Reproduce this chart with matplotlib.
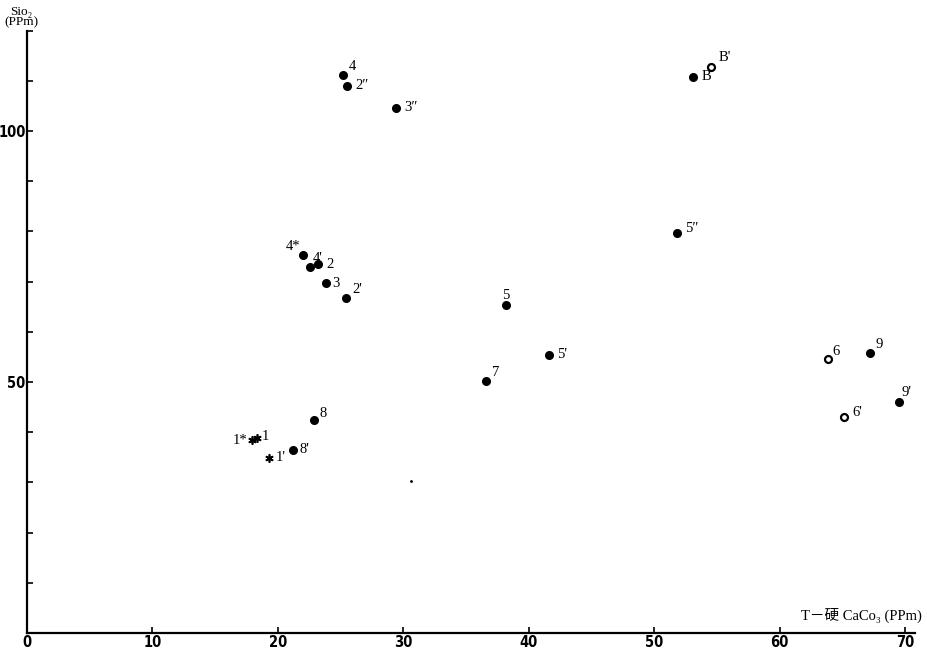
import matplotlib
matplotlib.use("Agg")
import matplotlib.pyplot as plt

# sample points: T-hardness CaCO3 (ppm) vs SiO2 (ppm)
names = ["4", "2″", "3″", "B", "B'", "4*", "4'", "2", "3", "2'",
         "5", "5″", "5'", "7", "6", "9", "9'", "6'", "8", "8'",
         "1", "1*", "1'"]
caco3 = [25.2, 25.5, 29.4, 53.1, 54.5, 22.0, 22.6, 23.2, 23.8, 25.4,
         38.2, 51.8, 41.6, 36.6, 63.9, 67.2, 69.5, 65.1, 22.9, 21.2,
         18.3, 17.9, 19.3]
sio2 = [111.2, 109.0, 104.6, 110.8, 112.7, 75.3, 72.9, 73.5, 69.7, 66.7,
        65.3, 79.7, 55.4, 50.2, 54.6, 55.8, 46.0, 43.0, 42.4, 36.5,
        38.8, 38.4, 34.9]
kind = ["dot", "dot", "dot", "dot", "ring", "dot", "dot", "dot", "dot", "dot",
        "dot", "dot", "dot", "dot", "ring", "dot", "dot", "ring", "dot", "dot",
        "star", "star", "star"]

# label offsets in points (dx, dy)
offs = [(4, 6), (6, 0), (6, 0), (6, 0), (6, 7), (-2, 6), (2, 6), (6, 0), (5, 0), (5, 6),
        (0, 7), (6, 3), (6, 0), (4, 6), (3, 5), (4, 6), (2, 7), (6, 3), (4, 5), (5, 0),
        (4, 1), (-3, 0), (5, 0)]

fig = plt.figure(figsize=(9.27, 6.49), dpi=100)
ax = fig.add_axes([0.0291, 0.0247, 0.958, 0.928])

for n, x, y, k, (dx, dy) in zip(names, caco3, sio2, kind, offs):
    if k == "dot":
        ax.plot(x, y, "o", color="black", ms=5.5)
    elif k == "ring":
        ax.plot(x, y, "o", mfc="white", mec="black", mew=1.6, ms=5)
    else:
        ax.plot(x, y, marker=(6, 2, 0), color="black", ms=6, mew=1.2)
    ha = "right" if dx < 0 else "left"
    if dx == 0:
        ha = "center"
    ax.annotate(n, (x, y), xytext=(dx, dy), textcoords="offset points",
                ha=ha, va="center", fontsize=10.5,
                family=["Liberation Serif", "DejaVu Serif"])

# stray speck
ax.plot(30.6, 30.3, ".", color="black", ms=2)

ax.set_xlim(0, 70.8)
ax.set_ylim(0, 120)
for s in ["top", "right"]:
    ax.spines[s].set_visible(False)
ax.spines["left"].set_linewidth(1.6)
ax.spines["bottom"].set_linewidth(1.6)

ax.set_xticks(range(0, 71, 10))
ax.set_yticks(range(0, 121, 10))
ax.set_yticklabels(["0" if v == 0 else ("50" if v == 50 else ("100" if v == 100 else "")) for v in range(0, 121, 10)])
ax.tick_params(axis="x", direction="in", length=4, width=1.2, pad=1.5)
ax.tick_params(axis="y", direction="in", length=4, width=1.2, pad=1)
for lab in ax.get_xticklabels() + ax.get_yticklabels():
    lab.set_family(["DejaVu Sans"])
    lab.set_fontstretch("condensed")
    lab.set_fontweight("bold")
    lab.set_fontsize(10.5)
# the 0 at origin sits below the axis only once
ax.get_yticklabels()[0].set_visible(False)

fig.text(0.023, 0.974, "Sio₂\n(PPm)", ha="center", va="center", fontsize=9.5,
         linespacing=0.85, family=["Liberation Serif", "DejaVu Serif"])
fig.text(0.994, 0.052, "T－硬 CaCo₃ (PPm)", ha="right", va="center", fontsize=10.5,
         family=["Liberation Serif", "Noto Sans CJK JP", "DejaVu Serif"])

fig.savefig("out.png", dpi=100)
